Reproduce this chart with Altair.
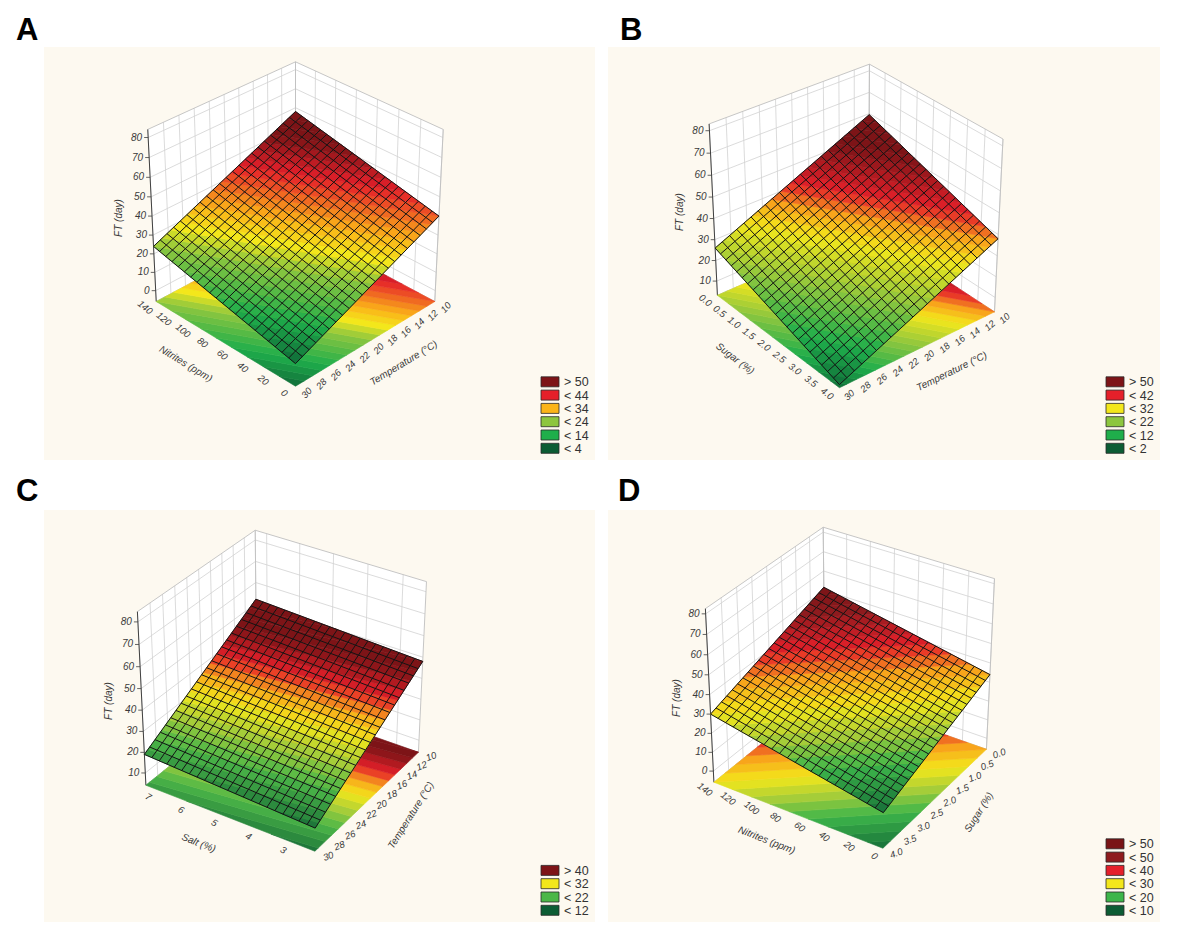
import math
import altair as alt

# ---------------------------------------------------------------
# Values
# ---------------------------------------------------------------
PANEL_NAMES = ["A", "B", "C", "D"]

# A : Nitrites x Temperature
A_X_TITLE = "Nitrites (ppm)"
A_X_RANGE = [0, 140]                      # front corner -> left corner
A_X_TICKS = [0, 20, 40, 60, 80, 100, 120, 140]
A_X_LABELS = ["0", "20", "40", "60", "80", "100", "120", "140"]
A_Y_TITLE = "Temperature (°C)"
A_Y_RANGE = [30, 10]                      # front corner -> right corner
A_Y_TICKS = [30, 28, 26, 24, 22, 20, 18, 16, 14, 12, 10]
A_Y_LABELS = ["30", "28", "26", "24", "22", "20", "18", "16", "14", "12", "10"]
A_Z_RANGE = [-6, 84]
A_Z_TICKS = [0, 10, 20, 30, 40, 50, 60, 70, 80]
A_FT = [6, 24, 40, 58]                    # FT (day) at front, left, right, back corner
A_LEG_LABELS = ["> 50", "< 44", "< 34", "< 24", "< 14", "< 4"]
A_LEG_COLORS = ["#7d1417", "#e5202a", "#fbb418", "#8dc63f", "#1fae4b", "#0c5c34"]

# B : Sugar x Temperature
B_X_TITLE = "Sugar (%)"
B_X_RANGE = [4.0, 0.0]
B_X_TICKS = [4.0, 3.5, 3.0, 2.5, 2.0, 1.5, 1.0, 0.5, 0.0]
B_X_LABELS = ["4.0", "3.5", "3.0", "2.5", "2.0", "1.5", "1.0", "0.5", "0.0"]
B_Y_TITLE = "Temperature (°C)"
B_Y_RANGE = [30, 10]
B_Y_TICKS = [30, 28, 26, 24, 22, 20, 18, 16, 14, 12, 10]
B_Y_LABELS = ["30", "28", "26", "24", "22", "20", "18", "16", "14", "12", "10"]
B_Z_RANGE = [3, 83]
B_Z_TICKS = [10, 20, 30, 40, 50, 60, 70, 80]
B_FT = [4.5, 26, 38, 59.5]
B_LEG_LABELS = ["> 50", "< 42", "< 32", "< 22", "< 12", "< 2"]
B_LEG_COLORS = ["#7d1417", "#e5202a", "#f3e71b", "#8dc63f", "#1fae4b", "#0c5c34"]

# C : Salt x Temperature
C_X_TITLE = "Salt (%)"
C_X_RANGE = [2.35, 7.35]
C_X_TICKS = [3, 4, 5, 6, 7]
C_X_LABELS = ["3", "4", "5", "6", "7"]
C_Y_TITLE = "Temperature (°C)"
C_Y_RANGE = [30, 10]
C_Y_TICKS = [30, 28, 26, 24, 22, 20, 18, 16, 14, 12, 10]
C_Y_LABELS = ["30", "28", "26", "24", "22", "20", "18", "16", "14", "12", "10"]
C_Z_RANGE = [4, 84.5]
C_Z_TICKS = [10, 20, 30, 40, 50, 60, 70, 80]
C_FT = [15, 19, 48, 52]
C_LEG_LABELS = ["> 40", "< 32", "< 22", "< 12"]
C_LEG_COLORS = ["#7d1417", "#f3e71b", "#4cb748", "#0c5c34"]

# D : Nitrites x Sugar
D_X_TITLE = "Nitrites (ppm)"
D_X_RANGE = [0, 140]
D_X_TICKS = [0, 20, 40, 60, 80, 100, 120, 140]
D_X_LABELS = ["0", "20", "40", "60", "80", "100", "120", "140"]
D_Y_TITLE = "Sugar (%)"
D_Y_RANGE = [4.0, 0.0]
D_Y_TICKS = [4.0, 3.5, 3.0, 2.5, 2.0, 1.5, 1.0, 0.5, 0.0]
D_Y_LABELS = ["4.0", "3.5", "3.0", "2.5", "2.0", "1.5", "1.0", "0.5", "0.0"]
D_Z_RANGE = [-6, 82.5]
D_Z_TICKS = [0, 10, 20, 30, 40, 50, 60, 70, 80]
D_FT = [12.5, 30, 34, 51.5]
D_LEG_LABELS = ["> 50", "< 50", "< 40", "< 30", "< 20", "< 10"]
D_LEG_COLORS = ["#7a1416", "#8e1b1e", "#e5202a", "#f3e71b", "#3db54a", "#0c5c34"]

Z_TITLE = "FT (day)"

# ---------------------------------------------------------------
# Styling / layout (not data)
# ---------------------------------------------------------------
DKGREEN, GREEN, LTGREEN = "#0c5c34", "#1fae4b", "#8dc63f"
YELLOW, ORANGE, RED, DKRED = "#f3e71b", "#f8a51b", "#e5202a", "#7d1417"

RAMPS = {
    "A": ([4, 14, 24, 29, 34, 44, 52], [DKGREEN, GREEN, LTGREEN, YELLOW, "#fbb418", RED, DKRED]),
    "B": ([2, 12, 22, 32, 37, 42, 52], [DKGREEN, GREEN, LTGREEN, YELLOW, ORANGE, RED, DKRED]),
    "C": ([12, 22, 27, 32, 36, 40, 46], [DKGREEN, "#4cb748", "#a5cd39", YELLOW, ORANGE, RED, DKRED]),
    "D": ([10, 20, 25, 30, 35, 40, 47, 52],
          [DKGREEN, "#3db54a", "#a5cd39", YELLOW, ORANGE, RED, "#8e1b1e", "#7a1416"]),
}

# panel frame (image pixels): left, top, right, bottom
FRAMES = {"A": (44, 47, 595, 460), "B": (608, 47, 1160, 460),
          "C": (44, 510, 595, 922), "D": (608, 510, 1160, 922)}
# camera: azimuth, screen centre x, y
CAMERA = {"A": (45, 295.5, 218), "B": (39, 855, 220),
          "C": (57, 284, 685), "D": (57, 852, 682)}
LETTER_POS = {"A": (16, 40), "B": (620, 40), "C": (16, 501), "D": (618, 501)}
LEGEND_X = {"A": 541, "B": 1106, "C": 541, "D": 1106}
# text angles for floor tick labels (x axis, y axis) and extra tilt of y title
TICK_ANGLES = {"A": (40, 312), "B": (38, 318), "C": (30, 340), "D": (38, 340)}
YTITLE_TILT = {"A": 0, "B": 0, "C": -14, "D": -14}

OFF = 8
PAGE_W, PAGE_H = 1167, 934
BG = "#fdf9f0"
N_MESH = 22
BAND = 2.0
TEXT_COL = "#3a3a3a"

PANEL_DATA = {
    "A": (A_X_TITLE, A_X_RANGE, A_X_TICKS, A_X_LABELS, A_Y_TITLE, A_Y_RANGE, A_Y_TICKS, A_Y_LABELS,
          A_Z_RANGE, A_Z_TICKS, A_FT, A_LEG_LABELS, A_LEG_COLORS),
    "B": (B_X_TITLE, B_X_RANGE, B_X_TICKS, B_X_LABELS, B_Y_TITLE, B_Y_RANGE, B_Y_TICKS, B_Y_LABELS,
          B_Z_RANGE, B_Z_TICKS, B_FT, B_LEG_LABELS, B_LEG_COLORS),
    "C": (C_X_TITLE, C_X_RANGE, C_X_TICKS, C_X_LABELS, C_Y_TITLE, C_Y_RANGE, C_Y_TICKS, C_Y_LABELS,
          C_Z_RANGE, C_Z_TICKS, C_FT, C_LEG_LABELS, C_LEG_COLORS),
    "D": (D_X_TITLE, D_X_RANGE, D_X_TICKS, D_X_LABELS, D_Y_TITLE, D_Y_RANGE, D_Y_TICKS, D_Y_LABELS,
          D_Z_RANGE, D_Z_TICKS, D_FT, D_LEG_LABELS, D_LEG_COLORS),
}


# ---------------------------------------------------------------
# helpers
# ---------------------------------------------------------------
def dot(a, b):
    return a[0] * b[0] + a[1] * b[1] + a[2] * b[2]


def make_proj(gamma, cx, cy, beta=32.0, R=9.0, F=1825.0):
    g, b = math.radians(gamma), math.radians(beta)
    fwd = (math.cos(b) * math.cos(g), math.cos(b) * math.sin(g), -math.sin(b))
    up = (math.sin(b) * math.cos(g), math.sin(b) * math.sin(g), math.cos(b))
    rt = (-math.sin(g), math.cos(g), 0.0)

    def proj(u, v, w):
        P = (u - 0.5, v - 0.5, w - 0.5)
        d = R + dot(P, fwd)
        return (cx + F * dot(P, rt) / d - OFF, cy - F * dot(P, up) / d - OFF)
    return proj


def hex2rgb(h):
    h = h.lstrip("#")
    return tuple(int(h[i:i + 2], 16) for i in (0, 2, 4))


def ramp_color(val, levels, colors):
    if val <= levels[0]:
        return colors[0]
    if val >= levels[-1]:
        return colors[-1]
    for i in range(len(levels) - 1):
        if levels[i] <= val <= levels[i + 1]:
            t = (val - levels[i]) / (levels[i + 1] - levels[i])
            c0, c1 = hex2rgb(colors[i]), hex2rgb(colors[i + 1])
            c = [round(c0[k] + t * (c1[k] - c0[k])) for k in range(3)]
            return "#%02x%02x%02x" % tuple(c)
    return colors[-1]


def clip(poly, fn, level, above):
    out = []
    n = len(poly)
    for i in range(n):
        P, Q = poly[i], poly[(i + 1) % n]
        fp, fq = fn(*P) - level, fn(*Q) - level
        ip = fp >= 0 if above else fp <= 0
        iq = fq >= 0 if above else fq <= 0
        if ip:
            out.append(P)
        if ip != iq:
            t = fp / (fp - fq)
            out.append((P[0] + t * (Q[0] - P[0]), P[1] + t * (Q[1] - P[1])))
    return out


def poly_feature(pts, fill, stroke="transparent", sw=0.0):
    ring = [[round(p[0], 2), round(p[1], 2)] for p in pts]
    ring.append(ring[0])
    return {"type": "Feature", "geometry": {"type": "Polygon", "coordinates": [ring]},
            "properties": {"fill": fill, "stroke": stroke, "sw": sw}}


def line_feature(pts, stroke, sw):
    coords = [[round(p[0], 2), round(p[1], 2)] for p in pts]
    return {"type": "Feature", "geometry": {"type": "LineString", "coordinates": coords},
            "properties": {"fill": "transparent", "stroke": stroke, "sw": sw}}


features = []
title_texts = []
tick_texts = []
ztick_texts = []
legend_texts = []
letter_texts = []

# panel backgrounds
for name in PANEL_NAMES:
    l, t, r, b = FRAMES[name]
    features.append(poly_feature([(l - OFF, t - OFF), (r - OFF, t - OFF), (r - OFF, b - OFF), (l - OFF, b - OFF)], BG))

for name in PANEL_NAMES:
    (xt, xr, xticks, xlabels, yt, yr, yticks, ylabels, zr, zticks, ft, leg_labels, leg_colors) = PANEL_DATA[name]
    levels, colors = RAMPS[name]
    gamma, cx, cy = CAMERA[name]
    proj = make_proj(gamma, cx, cy)

    def u_of(val, xr=xr):
        return (val - xr[0]) / (xr[1] - xr[0])

    def v_of(val, yr=yr):
        return (val - yr[0]) / (yr[1] - yr[0])

    def w_of(z, zr=zr):
        return (z - zr[0]) / (zr[1] - zr[0])

    f0, f1, f2, f3 = ft
    ca = ((f1 - f0) + (f3 - f2)) / 2.0
    cb = ((f2 - f0) + (f3 - f1)) / 2.0
    cc = (f0 + f1 + f2 + f3) / 4.0 - ca / 2.0 - cb / 2.0

    def fval(u, v, ca=ca, cb=cb, cc=cc):
        return cc + ca * u + cb * v

    # ---- back walls ----
    wall_u = [proj(1, 0, 0), proj(1, 1, 0), proj(1, 1, 1), proj(1, 0, 1)]
    wall_v = [proj(0, 1, 0), proj(1, 1, 0), proj(1, 1, 1), proj(0, 1, 1)]
    features.append(poly_feature(wall_u, "#ffffff"))
    features.append(poly_feature(wall_v, "#ffffff"))
    grid_col, grid_w = "#d2d2d2", 0.8
    for yv in yticks:
        v = v_of(yv)
        features.append(line_feature([proj(1, v, 0), proj(1, v, 1)], grid_col, grid_w))
    for xv in xticks:
        u = u_of(xv)
        features.append(line_feature([proj(u, 1, 0), proj(u, 1, 1)], grid_col, grid_w))
    for zv in zticks:
        w = w_of(zv)
        features.append(line_feature([proj(1, 0, w), proj(1, 1, w), proj(0, 1, w)], grid_col, grid_w))
    edge_col = "#c0c0c0"
    features.append(line_feature([proj(1, 0, 1), proj(1, 1, 1), proj(0, 1, 1)], edge_col, 0.9))
    features.append(line_feature([proj(1, 1, 0), proj(1, 1, 1)], edge_col, 0.9))
    features.append(line_feature([proj(0, 1, 0), proj(0, 1, 1)], edge_col, 0.9))
    features.append(line_feature([proj(1, 0, 0), proj(1, 1, 0), proj(0, 1, 0)], edge_col, 0.9))
    # z axis line
    features.append(line_feature([proj(1, 0, 0), proj(1, 0, 1)], "#404040", 1.0))

    # ---- contour bands (floor and surface) ----
    square = [(0.0, 0.0), (1.0, 0.0), (1.0, 1.0), (0.0, 1.0)]
    fmin, fmax = min(ft), max(ft)
    lo = math.floor(fmin / BAND) * BAND
    bands = []
    while lo < fmax:
        hi = lo + BAND
        pg = clip(clip(square, fval, lo, True), fval, hi, False)
        if len(pg) >= 3:
            bands.append((pg, ramp_color(lo + BAND / 2.0, levels, colors)))
        lo = hi
    for pg, col in bands:
        features.append(poly_feature([proj(u, v, 0) for (u, v) in pg], col, col, 0.6))
    for pg, col in bands:
        features.append(poly_feature([proj(u, v, w_of(fval(u, v))) for (u, v) in pg], col, col, 0.6))
    # ---- surface mesh ----
    for i in range(N_MESH + 1):
        s = i / N_MESH
        features.append(line_feature([proj(s, 0, w_of(fval(s, 0))), proj(s, 1, w_of(fval(s, 1)))], "#141414", 1.0))
        features.append(line_feature([proj(0, s, w_of(fval(0, s))), proj(1, s, w_of(fval(1, s)))], "#141414", 1.0))

    # ---- z axis ticks / labels ----
    for zv in zticks:
        px, py = proj(1, 0, w_of(zv))
        features.append(line_feature([(px - 4, py), (px, py)], "#404040", 0.8))
        ztick_texts.append({"lon": px - 6, "lat": py, "text": str(zv), "angle": 0})
    px, py = proj(1, 0, 0.5)
    title_texts.append({"lon": px - 33, "lat": py, "text": Z_TITLE, "angle": 270})

    # ---- floor axes ----
    pl, pf, pr = proj(1, 0, 0), proj(0, 0, 0), proj(0, 1, 0)
    ang_x = math.degrees(math.atan2(pf[1] - pl[1], pf[0] - pl[0])) % 360
    ang_y = math.degrees(math.atan2(pr[1] - pf[1], pr[0] - pf[0]))
    tax, tay = TICK_ANGLES[name]
    for xv, lab in zip(xticks, xlabels):
        px, py = proj(u_of(xv), -0.075, 0)
        tick_texts.append({"lon": px, "lat": py, "text": lab, "angle": tax})
    px, py = proj(0.5, -0.25, 0)
    title_texts.append({"lon": px, "lat": py, "text": xt, "angle": ang_x})
    for yv, lab in zip(yticks, ylabels):
        px, py = proj(-0.075, v_of(yv), 0)
        tick_texts.append({"lon": px, "lat": py, "text": lab, "angle": tay})
    px, py = proj(-0.24, 0.5, 0)
    title_texts.append({"lon": px, "lat": py, "text": yt, "angle": (ang_y + YTITLE_TILT[name]) % 360})

    # ---- legend ----
    n = len(leg_labels)
    bottom = FRAMES[name][3]
    lx = LEGEND_X[name] - OFF
    for i, (lab, col) in enumerate(zip(leg_labels, leg_colors)):
        top = bottom - 16.7 - (n - 1 - i) * 13.3 - OFF
        features.append(poly_feature([(lx, top), (lx + 18, top), (lx + 18, top + 10), (lx, top + 10)],
                                     col, "#2a2a2a", 0.8))
        legend_texts.append({"lon": lx + 23, "lat": top + 5.5, "text": lab, "angle": 0})

    lxp, lyp = LETTER_POS[name]
    letter_texts.append({"lon": lxp - OFF, "lat": lyp - OFF, "text": name, "angle": 0})

# ---------------------------------------------------------------
# chart
# ---------------------------------------------------------------
PROJ = dict(type="identity", scale=1, translate=[0, 0])

geo = alt.Chart(alt.Data(values=features)).mark_geoshape().encode(
    fill=alt.Fill("properties.fill:N", scale=None),
    stroke=alt.Stroke("properties.stroke:N", scale=None),
    strokeWidth=alt.StrokeWidth("properties.sw:Q", scale=None),
).project(**PROJ)


def text_layer(rows, **kw):
    return alt.Chart(alt.Data(values=rows)).mark_text(**kw).encode(
        longitude=alt.Longitude("lon:Q"),
        latitude=alt.Latitude("lat:Q"),
        text=alt.Text("text:N"),
        angle=alt.Angle("angle:Q", scale=None),
    ).project(**PROJ)


t_title = text_layer(title_texts, align="center", baseline="middle", font="Liberation Sans",
                     fontSize=10, fontStyle="italic", color=TEXT_COL)
t_tick = text_layer(tick_texts, align="center", baseline="middle",
                    font="Liberation Sans Narrow, Liberation Sans",
                    fontSize=9.5, fontStyle="italic", color=TEXT_COL)
t_z = text_layer(ztick_texts, align="right", baseline="middle", font="Liberation Sans",
                 fontSize=10, fontStyle="italic", color=TEXT_COL)
t_leg = text_layer(legend_texts, align="left", baseline="middle",
                   font="Liberation Sans Narrow, Liberation Sans", fontSize=12.5, color="#333333")
t_letter = text_layer(letter_texts, align="left", baseline="alphabetic", font="Liberation Sans",
                      fontSize=31, fontWeight="bold", color="#000000")

chart = alt.layer(geo, t_title, t_tick, t_z, t_leg, t_letter).properties(
    width=PAGE_W, height=PAGE_H, padding=0, autosize="none", background="#ffffff"
).configure_view(stroke=None)

chart.save("out.html", embed_options={"renderer": "svg", "actions": False})
